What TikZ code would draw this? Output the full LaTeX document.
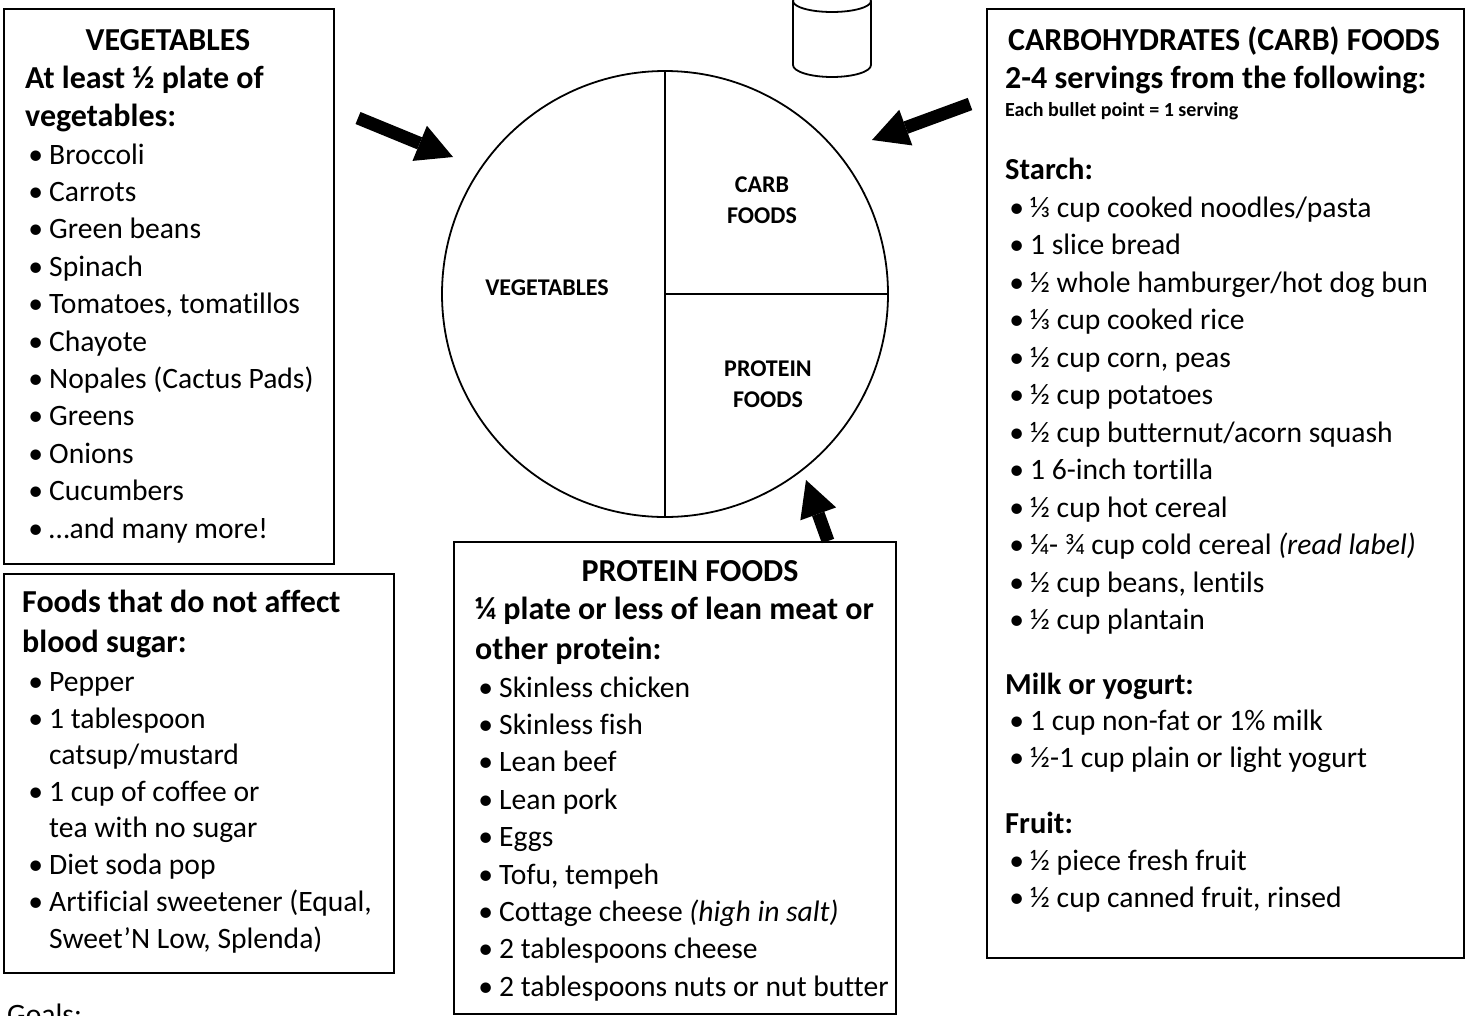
\documentclass[tikz,border=0pt]{standalone}
\usepackage{fontspec}
\setmainfont{Carlito}[Ligatures={NoCommon}]
\usetikzlibrary{arrows.meta}
\newcommand\bitem[1]{\llap{•\hspace{6pt}}#1}
\tikzset{
  box/.style={draw, line width=1.8pt, anchor=north west, inner sep=0pt},
  txt/.style={anchor=base west, inner sep=0pt, font=\fontsize{29.6}{34}\selectfont},
  hd/.style={anchor=base west, inner sep=0pt, font=\fontsize{32}{36}\selectfont\bfseries},
  sub/.style={anchor=base west, inner sep=0pt, font=\fontsize{30.5}{34}\selectfont\bfseries},
  hdc/.style={hd, anchor=base},
  tiny/.style={anchor=base west, inner sep=0pt, font=\fontsize{20}{24}\selectfont\bfseries},
  pie/.style={font=\fontsize{24}{28}\selectfont\bfseries, inner sep=0pt, align=center},
  bigarrow/.style={line width=13pt, -{Triangle[length=36pt,width=38pt,line width=0pt]}},
  thin/.style={line width=1.8pt}
}
\begin{document}
\begin{tikzpicture}[x=1pt,y=-1pt]
\fill[white] (0,0) rectangle (1469,1015);
\useasboundingbox (0,0) rectangle (1469,1015);

% ---------- Vegetables box ----------
\node[box, minimum width=330pt, minimum height=555pt] (vegbox) at (3,8) {};
\node[hdc] (vegt) at (168,50) {VEGETABLES};
\node[hd] (veg2) at (25,88) {At least ½ plate of};
\node[hd] (veg3) at (25,126) {vegetables:};
\foreach \t [count=\i] in {Broccoli, Carrots, Green beans, Spinach, {Tomatoes, tomatillos}, Chayote, Nopales (Cactus Pads), Greens, Onions, Cucumbers, …and many more!}
  \node[txt] (veg\i) at (49,126.6+37.4*\i) {\bitem{\t}};

% ---------- Foods box ----------
\node[box, minimum width=390pt, minimum height=399pt] (foodbox) at (3,573) {};
\node[hd] (f1) at (22,612) {Foods that do not affect};
\node[hd] (f2) at (22,652) {blood sugar:};
\node[txt] (f3) at (49,691) {\bitem{Pepper}};
\node[txt] (f4) at (49,728) {\bitem{1 tablespoon}};
\node[txt] (f5) at (49,764) {catsup/mustard};
\node[txt] (f6) at (49,801) {\bitem{1 cup of coffee or}};
\node[txt] (f7) at (49,837) {tea with no sugar};
\node[txt] (f8) at (49,874) {\bitem{Diet soda pop}};
\node[txt] (f9) at (49,911) {\bitem{Artificial sweetener (Equal,}};
\node[txt] (f10) at (49,948) {Sweet’N Low, Splenda)};

\node[txt] (goals) at (7,1024) {Goals:};

% ---------- Plate ----------
\node[circle, draw, thin, minimum size=446pt, inner sep=0pt] (plate) at (665,294) {};
\draw[thin] (plate.north) -- (plate.south);
\draw[thin] (plate.center) -- (plate.east);
\node[pie] (pv) at (547,288) {VEGETABLES};
\node[pie] (pc) at (762,200) {CARB\\[3pt]FOODS};
\node[pie] (pp) at (768,384) {PROTEIN\\[3pt]FOODS};

% ---------- Cup ----------
\draw[thin] (832,1) ellipse [x radius=39pt, y radius=11pt];
\draw[thin] (793,1) -- (793,65) arc[start angle=180, end angle=360, x radius=39pt, y radius=12pt] -- (871,1);

% ---------- Protein box ----------
\node[box, minimum width=442pt, minimum height=472pt, fill=white] (protbox) at (453,541) {};
\node[hdc] (pt) at (690,581) {PROTEIN FOODS};
\node[hd] (p2) at (475,619) {¼ plate or less of lean meat or};
\node[hd] (p3) at (475,659) {other protein:};
\foreach \t [count=\i] in {Skinless chicken, Skinless fish, Lean beef, Lean pork, Eggs, {Tofu, tempeh}, Cottage cheese \textit{(high in salt)}, 2 tablespoons cheese, 2 tablespoons nuts or nut butter}
  \node[txt] (prot\i) at (499,659.6+37.4*\i) {\bitem{\t}};

% ---------- Carb box ----------
\node[box, minimum width=477pt, minimum height=949pt] (carbbox) at (986,8) {};
\node[hdc] (ct) at (1224,50) {CARBOHYDRATES (CARB) FOODS};
\node[hd] (c2) at (1005,88) {2-4 servings from the following:};
\node[tiny] (c3) at (1005,116) {Each bullet point = 1 serving};
\node[sub] (starch) at (1005,179) {Starch:};
\foreach \t [count=\i] in {⅓ cup cooked noodles/pasta, 1 slice bread, ½ whole hamburger/hot dog bun, ⅓ cup cooked rice, {½ cup corn, peas}, ½ cup potatoes, ½ cup butternut/acorn squash, 1 6-inch tortilla, ½ cup hot cereal, ¼- ¾ cup cold cereal \textit{(read label)}, {½ cup beans, lentils}, ½ cup plantain}
  \node[txt] (st\i) at (1030,179.5+37.5*\i) {\bitem{\t}};
\node[sub] (milk) at (1005,694) {Milk or yogurt:};
\node[txt] (m1) at (1030,730) {\bitem{1 cup non-fat or 1\% milk}};
\node[txt] (m2) at (1030,767) {\bitem{½-1 cup plain or light yogurt}};
\node[sub] (fruit) at (1005,833) {Fruit:};
\node[txt] (fr1) at (1030,870) {\bitem{½ piece fresh fruit}};
\node[txt] (fr2) at (1030,907) {\bitem{½ cup canned fruit, rinsed}};

% ---------- Arrows ----------
\coordinate (a1s) at (358,118); \coordinate (a1e) at (453,157);
\coordinate (a2s) at (970,104); \coordinate (a2e) at (872,140);
\coordinate (a3s) at (828,541); \coordinate (a3e) at (806,480);
\draw[bigarrow] (a1s) -- (a1e);
\draw[bigarrow] (a2s) -- (a2e);
\draw[bigarrow] (a3s) -- (a3e);
\end{tikzpicture}
\end{document}
